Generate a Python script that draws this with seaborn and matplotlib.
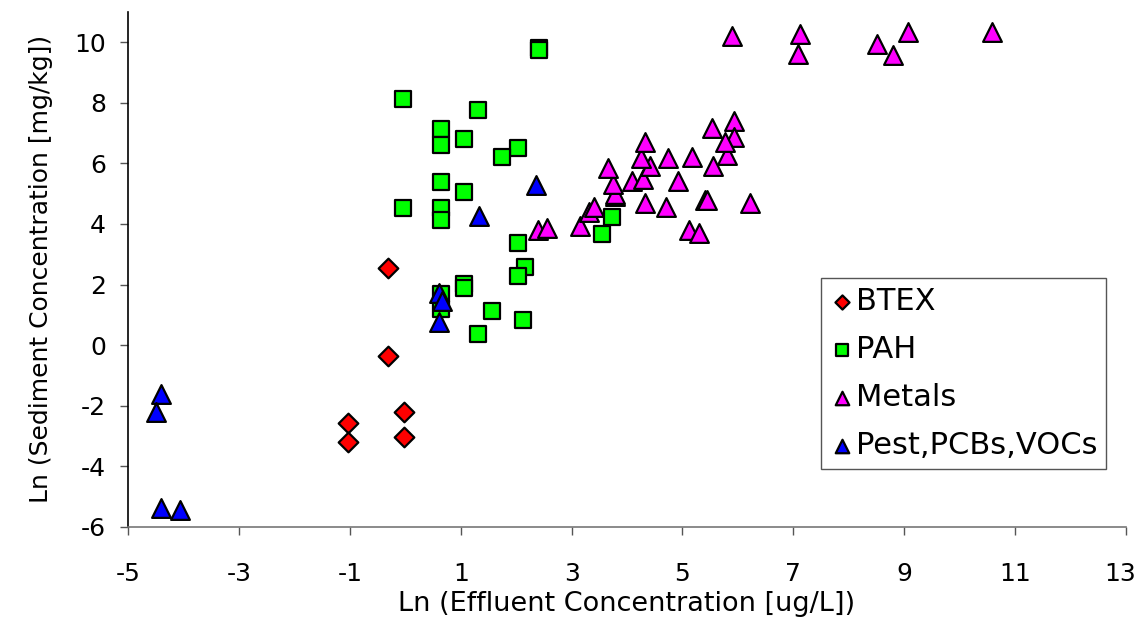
import matplotlib
matplotlib.use("Agg")
import matplotlib.pyplot as plt
import matplotlib.transforms as mtransforms
import seaborn as sns
import pandas as pd

# ---- data ----
btex_x = [-1.03, -1.03, -0.02, -0.02, -0.31, -0.31]
btex_y = [-2.58, -3.21, -2.22, -3.04, -0.35, 2.54]

pah_x = [2.41, 2.41, -0.04, 1.31, 0.65, 0.65, 1.06, 2.03, 1.75, 0.65, 1.06, -0.04, 0.65,
         0.65, 3.73, 3.55, 2.03, 2.16, 2.03, 0.65, 0.65, 1.06, 1.06, 1.57, 2.12, 1.31]
pah_y = [9.80, 9.74, 8.13, 7.76, 7.14, 6.61, 6.81, 6.52, 6.22, 5.37, 5.04, 4.51, 4.51,
         4.12, 4.22, 3.66, 3.36, 2.57, 2.28, 1.69, 1.19, 2.02, 1.88, 1.13, 0.83, 0.37]

metals_x = [2.40, 2.56, 3.15, 3.32, 3.41, 3.78, 3.78, 3.75, 3.66, 4.09, 4.29, 4.42, 4.25,
            4.74, 5.17, 5.55, 5.80, 4.92, 4.33, 4.70, 5.41, 5.45, 6.22, 5.12, 5.30, 4.33,
            5.53, 5.93, 5.93, 5.77, 5.89, 7.12, 7.08, 8.51, 9.07, 8.80, 10.58]
metals_y = [3.79, 3.86, 3.92, 4.38, 4.55, 4.91, 5.00, 5.33, 5.86, 5.40, 5.47, 5.92, 6.19,
            6.16, 6.22, 5.92, 6.29, 5.40, 4.68, 4.55, 4.78, 4.80, 4.68, 3.79, 3.69, 6.71,
            7.17, 7.40, 6.88, 6.71, 10.20, 10.26, 9.60, 9.93, 10.33, 9.57, 10.33]

pest_x = [-4.40, -4.49, -4.40, -4.06, 0.61, 0.66, 0.61, 1.33, 2.36]
pest_y = [-1.60, -2.19, -5.38, -5.44, 1.72, 1.46, 0.77, 4.25, 5.30]

groups = ["BTEX", "PAH", "Metals", "Pest,PCBs,VOCs"]
xticks = [-5, -3, -1, 1, 3, 5, 7, 9, 11, 13]
yticks = [-6, -4, -2, 0, 2, 4, 6, 8, 10]

df = pd.concat([
    pd.DataFrame({"x": btex_x, "y": btex_y, "group": "BTEX"}),
    pd.DataFrame({"x": pah_x, "y": pah_y, "group": "PAH"}),
    pd.DataFrame({"x": metals_x, "y": metals_y, "group": "Metals"}),
    pd.DataFrame({"x": pest_x, "y": pest_y, "group": "Pest,PCBs,VOCs"}),
], ignore_index=True)

colors = {"BTEX": "#FF0000", "PAH": "#00FF00", "Metals": "#FF00FF", "Pest,PCBs,VOCs": "#0000FF"}
markers = {"BTEX": "D", "PAH": "s", "Metals": "^", "Pest,PCBs,VOCs": "^"}
msizes = {"BTEX": 10.0, "PAH": 11.5, "Metals": 13.5, "Pest,PCBs,VOCs": 13.5}

sns.set_style("white")
plt.rcParams["font.family"] = ["DejaVu Sans"]
plt.rcParams["axes.unicode_minus"] = False
plt.rcParams["text.color"] = "black"
plt.rcParams["axes.labelcolor"] = "black"
plt.rcParams["xtick.color"] = "black"
plt.rcParams["ytick.color"] = "black"

fig = plt.figure(figsize=(11.38, 6.20), dpi=100)
ax = fig.add_axes([0.1125, 0.150, 0.877, 0.831])

for g in groups:
    sub = df[df["group"] == g]
    sns.scatterplot(data=sub, x="x", y="y", ax=ax, marker=markers[g],
                    s=msizes[g] ** 2, color=colors[g], edgecolor="black",
                    linewidth=1.6, label=g, zorder=3)

ax.set_xlim(-5, 13)
ax.set_ylim(-6, 11)
ax.set_xticks(xticks)
ax.set_yticks(yticks)
ax.tick_params(axis="both", labelsize=18, direction="out", length=6, width=1,
               left=True, bottom=True)
ax.tick_params(axis="y", pad=10)
ax.tick_params(axis="x", pad=19)
ax.tick_params(axis="both", color="#555555")
for side in ["top", "right"]:
    ax.spines[side].set_visible(False)
ax.spines["left"].set_color("black")
ax.spines["left"].set_linewidth(1.2)
ax.spines["bottom"].set_color("#777777")
ax.spines["bottom"].set_linewidth(1.2)

# keep the last x tick label fully inside the figure
last = ax.get_xticklabels()[-1]
last.set_transform(last.get_transform() +
                   mtransforms.ScaledTranslation(-6 / 100, 0, fig.dpi_scale_trans))

ax.set_xlabel("Ln (Effluent Concentration [ug/L])", fontsize=19.5, labelpad=4)
ax.set_ylabel("Ln (Sediment Concentration [mg/kg])", fontsize=18, labelpad=15)

leg = ax.legend(loc="upper left", bbox_to_anchor=(0.694, 0.483), borderaxespad=0,
                fontsize=22, frameon=True, fancybox=False, framealpha=1,
                edgecolor="#555555", labelspacing=0.62, handletextpad=0.03,
                handlelength=0.82, borderpad=0.3, markerscale=0.72)
leg.get_frame().set_linewidth(1.0)

fig.savefig("out.png", dpi=100)
